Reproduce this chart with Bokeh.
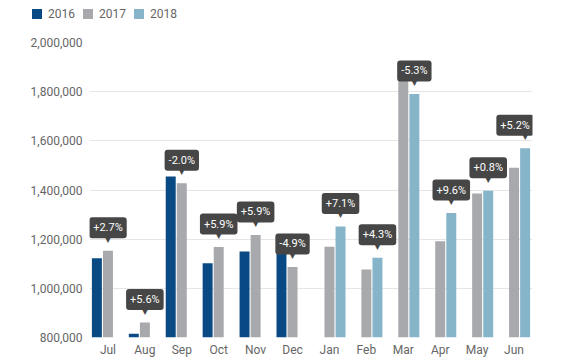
from bokeh.plotting import figure
from bokeh.layouts import column
from bokeh.models import (Range1d, FactorRange, ColumnDataSource, Div,
                          NumeralTickFormatter, FixedTicker)
from bokeh.transform import dodge
from bokeh.core.properties import value
from bokeh.embed import file_html
from bokeh.resources import INLINE

months = ["Jul", "Aug", "Sep", "Oct", "Nov", "Dec", "Jan", "Feb", "Mar", "Apr", "May", "Jun"]

months_2016 = ["Jul", "Aug", "Sep", "Oct", "Nov", "Dec"]
values_2016 = [1122000, 815000, 1455000, 1102000, 1150000, 1143000]

months_2017 = months
values_2017 = [1153000, 861000, 1427000, 1168000, 1217000, 1087000,
               1169000, 1077000, 1891000, 1192000, 1386000, 1491000]

months_2018 = ["Jan", "Feb", "Mar", "Apr", "May", "Jun"]
values_2018 = [1252000, 1124000, 1791000, 1306000, 1397000, 1570000]

change_first = ["+2.7%", "+5.6%", "-2.0%", "+5.9%", "+5.9%", "-4.9%"]
change_second = ["+7.1%", "+4.3%", "-5.3%", "+9.6%", "+0.8%", "+5.2%"]

series_names = ["2016", "2017", "2018"]
y_ticks = [800000, 1000000, 1200000, 1400000, 1600000, 1800000, 2000000]

C16, C17, C18 = "#0a4a84", "#a8a9ad", "#86b5c9"
TIP = "#464646"
FONT = "Roboto"
W = 560
LEG_H = 28

# ---- legend strip (HTML) ----
parts = []
for i, (name, col) in enumerate(zip(series_names, (C16, C17, C18))):
    left = 32 + 51 * i
    parts.append(
        f'<div style="position:absolute;left:{left}px;top:9px;width:10px;height:10px;'
        f'background:{col}"></div>'
        f'<div style="position:absolute;left:{left + 16}px;top:6px;line-height:16px;'
        f'font-family:Roboto;font-size:12px;color:#666666;white-space:nowrap">{name}</div>')
legend_div = Div(text=f'<div style="position:relative;width:{W}px;height:{LEG_H}px">'
                      + "".join(parts) + "</div>",
                 width=W, height=LEG_H, margin=0)

# ---- main chart ----
p = figure(width=W, height=360 - LEG_H, x_range=FactorRange(*months),
           y_range=Range1d(800000, 2000000), output_backend="svg",
           toolbar_location=None, min_border_left=89, min_border_right=28,
           min_border_top=42 - LEG_H, min_border_bottom=23)
p.outline_line_color = None
p.background_fill_color = "white"

BW = 0.27
OFF = 0.3
s16 = ColumnDataSource(dict(month=months_2016, val=values_2016))
s17 = ColumnDataSource(dict(month=months_2017, val=values_2017))
s18 = ColumnDataSource(dict(month=months_2018, val=values_2018))

p.vbar(x=dodge("month", -OFF, range=p.x_range), top="val", bottom=0, width=BW,
       source=s16, fill_color=C16, line_color=None)
p.vbar(x=dodge("month", 0, range=p.x_range), top="val", bottom=0, width=BW,
       source=s17, fill_color=C17, line_color=None)
p.vbar(x=dodge("month", OFF, range=p.x_range), top="val", bottom=0, width=BW,
       source=s18, fill_color=C18, line_color=None)

# tooltips (last box nudged left to stay inside the plot area)
t1 = ColumnDataSource(dict(month=months_2016, val=values_2017[:6], label=change_first,
                           xo=[0, 0, 0, 0, 0, 0]))
t2 = ColumnDataSource(dict(month=months_2018, val=values_2018, label=change_second,
                           xo=[0, 0, 0, 0, 0, -10]))
for src, off in ((t1, 0), (t2, OFF)):
    p.text(x=dodge("month", off, range=p.x_range), y="val", text=value("▼"), source=src,
           text_align="center", text_baseline="middle", y_offset=-12,
           text_font=value("DejaVu Sans"), text_font_size="9px", text_color=TIP)
    p.text(x=dodge("month", off, range=p.x_range), y="val", text="label", source=src,
           text_align="center", text_baseline="middle", y_offset=-23, x_offset="xo",
           text_font=value(FONT), text_font_size="11px", text_color="white",
           background_fill_color=TIP, border_radius=3, padding=4)

# axes
p.yaxis.ticker = FixedTicker(ticks=y_ticks)
p.yaxis.formatter = NumeralTickFormatter(format="0,0")
for ax in (p.xaxis, p.yaxis):
    ax.axis_line_color = None
    ax.major_tick_line_color = None
    ax.minor_tick_line_color = None
    ax.major_tick_out = 0
    ax.major_tick_in = 0
    ax.major_label_text_font = FONT
    ax.major_label_text_font_size = "12px"
    ax.major_label_text_color = "#666666"
p.xaxis.major_label_standoff = 5
p.yaxis.major_label_standoff = 7
p.xgrid.grid_line_color = None
p.ygrid.grid_line_color = "#e6e6e6"
p.ygrid.grid_line_width = 1

layout = column(legend_div, p, spacing=0)
open("out.html", "w").write(file_html(layout, INLINE))
